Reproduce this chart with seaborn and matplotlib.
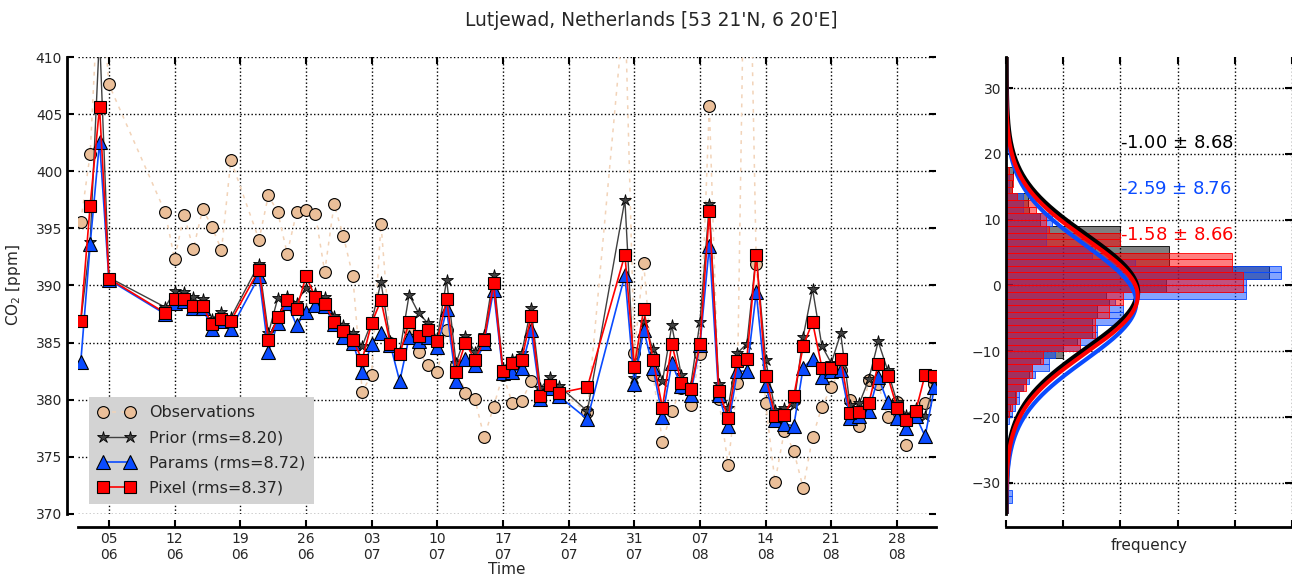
import numpy as np
import pandas as pd
import matplotlib
matplotlib.use('Agg')
import matplotlib.pyplot as plt
import seaborn as sns

# --- daily values ---
days = (['2008-06-%02d' % d for d in [2, 3, 4, 5, 11, 12, 13, 14, 15, 16, 17, 18,
                                       21, 22, 23, 24, 25, 26, 27, 28, 29, 30]]
        + ['2008-07-%02d' % d for d in list(range(1, 24)) + [26, 30, 31]]
        + ['2008-08-%02d' % d for d in range(1, 32)]
        + ['2008-09-01'])

obs = [395.6, 401.5, 418.0, 407.6, 396.4, 392.3, 396.2, 393.2, 396.7, 395.1, 393.1, 401.0,
       394.0, 397.9, 396.4, 392.8, 396.4, 396.6, 396.3, 391.2, 397.1, 394.3,
       390.8, 380.7, 382.2, 395.4, 385.0, 384.0, 386.2, 384.2, 383.0, 382.4, 386.1, 383.0,
       380.6, 380.1, 376.7, 379.4, 382.2, 379.7, 379.9, 381.6, 380.5, 381.0, 380.8,
       378.9, 415.0, 384.1,
       392.0, 382.2, 376.3, 379.0, 381.0, 379.5, 384.0, 405.7, 380.1, 374.3, 381.5, 435.0,
       391.9, 379.7, 372.8, 377.3, 375.5, 372.3, 376.7, 379.4, 381.1, 382.6, 380.0, 377.7,
       381.7, 381.4, 378.5, 379.8, 376.0, 378.8, 379.7,
       381.4]
prior = [386.9, 393.8, 412.0, 390.7, 388.1, 389.5, 389.4, 389.0, 388.8, 387.1, 387.7, 387.2,
         391.9, 385.8, 388.9, 389.1, 388.5, 389.8, 389.3, 389.0, 387.3, 386.5,
         385.8, 384.7, 386.8, 390.3, 385.1, 384.2, 389.2, 387.6, 386.7, 385.4, 390.5, 383.2,
         385.6, 384.2, 385.7, 390.9, 382.8, 383.6, 384.1, 388.0, 381.0, 382.0, 381.2,
         379.0, 397.5, 381.9,
         386.8, 384.4, 381.6, 386.5, 382.2, 381.2, 386.8, 397.1, 381.4, 379.3, 384.1, 384.9,
         392.7, 383.5, 379.1, 379.3, 379.5, 385.5, 389.7, 384.7, 383.2, 385.8, 379.5, 379.7,
         381.8, 385.1, 382.6, 379.8, 378.7, 379.3, 378.6,
         381.5]
params = [383.3, 393.6, 402.6, 390.5, 387.5, 388.5, 388.6, 388.0, 388.0, 386.2, 386.9, 386.2,
          390.8, 384.2, 386.7, 388.5, 386.5, 387.7, 388.3, 388.2, 386.6, 385.5,
          385.0, 382.4, 384.9, 385.8, 384.8, 381.6, 385.5, 385.1, 385.5, 384.6, 387.9, 381.6,
          383.6, 383.0, 385.0, 389.6, 382.3, 382.4, 382.8, 386.1, 380.1, 381.0, 380.3,
          378.3, 390.9, 381.4,
          386.1, 382.8, 378.5, 383.2, 381.2, 380.4, 384.8, 393.5, 380.4, 377.7, 382.5, 382.5,
          389.4, 381.3, 378.2, 377.9, 377.7, 382.8, 383.6, 382.0, 382.5, 382.6, 378.4, 378.6,
          379.0, 382.0, 379.8, 378.4, 377.5, 378.6, 376.8,
          381.1]
pixel = [386.9, 397.0, 405.6, 390.6, 387.6, 388.8, 388.8, 388.2, 388.2, 386.6, 387.1, 386.9,
         391.4, 385.2, 387.2, 388.7, 387.9, 390.8, 389.0, 388.4, 386.8, 386.0,
         385.2, 383.5, 386.7, 388.7, 384.9, 384.0, 386.8, 385.6, 386.1, 385.1, 388.8, 382.4,
         385.0, 383.5, 385.2, 390.2, 382.5, 383.2, 383.5, 387.3, 380.3, 381.3, 380.6,
         381.1, 392.7, 382.9,
         387.9, 383.5, 379.3, 384.9, 381.5, 380.9, 384.9, 396.5, 380.8, 378.4, 383.4, 383.6,
         392.7, 382.1, 378.6, 378.7, 380.3, 384.7, 386.8, 382.8, 382.8, 383.6, 378.8, 378.9,
         379.7, 383.1, 382.1, 379.3, 378.2, 379.0, 382.2,
         382.1]

tick_days = ['2008-06-05', '2008-06-12', '2008-06-19', '2008-06-26', '2008-07-03',
             '2008-07-10', '2008-07-17', '2008-07-24', '2008-07-31', '2008-08-07',
             '2008-08-14', '2008-08-21', '2008-08-28']

# residual histograms: density per 1 ppm bin, lower edges from -34 up to 18
hist_lo = -34
prior_hist = [0, 0, 0, 0, 0, 0, 0, 0, 0, 0, 0, 0,                      # -34 .. -23
              0, 0, 0.001, 0.0015, 0.003, 0.003, 0.006, 0.007, 0.008, 0.009,   # -22 .. -13
              0.012, 0.020, 0.020, 0.025, 0.030, 0.030, 0.030, 0.032, 0.032, 0.036,  # -12 .. -3
              0.035, 0.056, 0.056, 0.092, 0.092, 0.057, 0.057, 0.057, 0.040, 0.040,  # -2 .. 7
              0.040, 0.012, 0.012, 0.008, 0.0076, 0.0076, 0.002, 0.002, 0.0023, 0.0023, 0]  # 8 .. 18
params_hist = [0, 0.002, 0.002, 0, 0, 0, 0, 0, 0, 0, 0.0005, 0.0005,
               0.0005, 0.001, 0.002, 0.003, 0.0047, 0.0047, 0.006, 0.008, 0.010, 0.015,
               0.015, 0.017, 0.026, 0.032, 0.032, 0.032, 0.041, 0.041, 0.041, 0.038,
               0.084, 0.084, 0.084, 0.096, 0.096, 0.045, 0.030, 0.030, 0.014, 0.014,
               0.014, 0.016, 0.016, 0.006, 0.006, 0.006, 0.001, 0.001, 0.001, 0, 0]
pixel_hist = [0, 0, 0, 0, 0, 0, 0, 0, 0, 0, 0, 0,
              0, 0, 0.001, 0.002, 0.0035, 0.0035, 0.007, 0.007, 0.009, 0.009,
              0.013, 0.013, 0.026, 0.026, 0.031, 0.031, 0.031, 0.036, 0.036, 0.041,
              0.041, 0.083, 0.083, 0.083, 0.079, 0.079, 0.079, 0.031, 0.040, 0.040,
              0.015, 0.014, 0.014, 0.0105, 0.0105, 0.004, 0.002, 0.0025, 0.0025, 0.001, 0]

stats = [(-1.00, 8.68), (-2.59, 8.76), (-1.58, 8.66)]
rms = [8.20, 8.72, 8.37]

c_obs = '#ebbf99'
c_obs_line = '#f2d3b8'   # faint dotted line joining the observations
c_prior = '#404040'
c_params = '#0a4bff'
c_pixel = '#ff0000'

sns.set_style('ticks')
plt.rcParams['font.family'] = ['DejaVu Sans']

dates = pd.to_datetime(days)
fig = plt.figure(figsize=(12.92, 5.77), dpi=100)
ax = fig.add_axes([0.0604, 0.1092, 0.6641, 0.7920])
ax2 = fig.add_axes([0.7786, 0.1092, 0.2214, 0.7920])

# time series
sns.lineplot(x=dates, y=obs, ax=ax, sort=False, estimator=None, color=c_obs_line,
             lw=1.1, ls=(0, (2.5, 3.5)), marker='o', ms=8.5, mfc=c_obs, mec='k', mew=0.8,
             label='Observations', zorder=2)
sns.lineplot(x=dates, y=prior, ax=ax, sort=False, estimator=None, color=c_prior,
             lw=1.0, marker='*', ms=9, mfc=c_prior, mec='k', mew=0.6,
             label='Prior (rms=%.2f)' % rms[0], zorder=3)
sns.lineplot(x=dates, y=params, ax=ax, sort=False, estimator=None, color=c_params,
             lw=1.2, marker='^', ms=9.5, mfc=c_params, mec='k', mew=0.8,
             label='Params (rms=%.2f)' % rms[1], zorder=4)
sns.lineplot(x=dates, y=pixel, ax=ax, sort=False, estimator=None, color=c_pixel,
             lw=1.2, marker='s', ms=9, mfc=c_pixel, mec='k', mew=0.8,
             label='Pixel (rms=%.2f)' % rms[2], zorder=5)

ax.set_xlim(pd.Timestamp('2008-06-01 17:00'), pd.Timestamp('2008-09-01 04:00'))
ax.set_ylim(370, 410)
ax.set_yticks(np.arange(370, 411, 5))
ticks = pd.to_datetime(tick_days)
ax.set_xticks(ticks)
ax.set_xticklabels([t.strftime('%d\n%m') for t in ticks])
ax.grid(True, ls=':', color='k', lw=1.0)
ax.set_xlabel('Time', fontsize=11)
ax.set_ylabel('CO$_2$ [ppm]', fontsize=11)
ax.xaxis.set_label_coords(0.5, -0.106)
ax.yaxis.set_label_coords(-0.064, 0.5)

leg = ax.legend(loc='lower left', bbox_to_anchor=(0.013, 0.022), borderaxespad=0,
                numpoints=2, fontsize=11.5, frameon=True, fancybox=False,
                facecolor='#d3d3d3', edgecolor='none', framealpha=1,
                handlelength=2.3, handletextpad=0.9, borderpad=0.55, labelspacing=0.62)

# residual histograms
centers = hist_lo + 0.5 + np.arange(len(prior_hist))
for h, c in [(prior_hist, 'k'), (params_hist, c_params), (pixel_hist, c_pixel)]:
    df = pd.DataFrame({'resid': centers, 'dens': h})
    sns.histplot(data=df, y='resid', weights='dens', binwidth=1,
                 binrange=(hist_lo, hist_lo + len(h)), ax=ax2, color=c,
                 alpha=0.5, edgecolor=c, linewidth=0.6, stat='count')

yy = np.linspace(-34.72, 34.72, 400)
for (m, s), c, lw in zip(stats, ['k', c_params, c_pixel], [4.0, 3.0, 3.0]):
    pdf = np.exp(-0.5 * ((yy - m) / s) ** 2) / (np.sqrt(2 * np.pi) * s)
    sns.lineplot(x=pdf, y=yy, ax=ax2, sort=False, estimator=None, color=c, lw=lw)

for i, ((m, s), c) in enumerate(zip(stats, ['k', c_params, c_pixel])):
    ax2.text(0.4, 0.8 - 0.1 * i, '%.2f $\\pm$ %.2f' % (m, s), transform=ax2.transAxes,
             color=c, fontsize=13, ha='left', va='baseline')

ax2.set_ylim(-34.72, 34.72)
ax2.set_xlim(0, 0.1)
ax2.set_xticks(np.arange(0, 0.101, 0.02))
ax2.set_xticklabels([])
ax2.set_yticks(np.arange(-30, 31, 10))
ax2.grid(True, ls=':', color='k', lw=1.0)
ax2.set_xlabel('frequency', fontsize=11)
ax2.set_ylabel('')
ax2.xaxis.set_label_coords(0.5, -0.052)

sns.despine(ax=ax, offset={'left': 8, 'bottom': 9.5})
sns.despine(ax=ax2, offset={'bottom': 9.5})
for a in (ax, ax2):
    a.tick_params(which='major', direction='in', top=True, right=True,
                  length=5, width=1.5, labelsize=10, color='k')
    for sp in ('left', 'bottom'):
        a.spines[sp].set_linewidth(2.0)
        a.spines[sp].set_color('k')

fig.text(0.504, 0.965, "Lutjewad, Netherlands [53 21'N, 6 20'E]", ha='center',
         va='center', fontsize=13.4)

fig.savefig('out.png', dpi=100)
